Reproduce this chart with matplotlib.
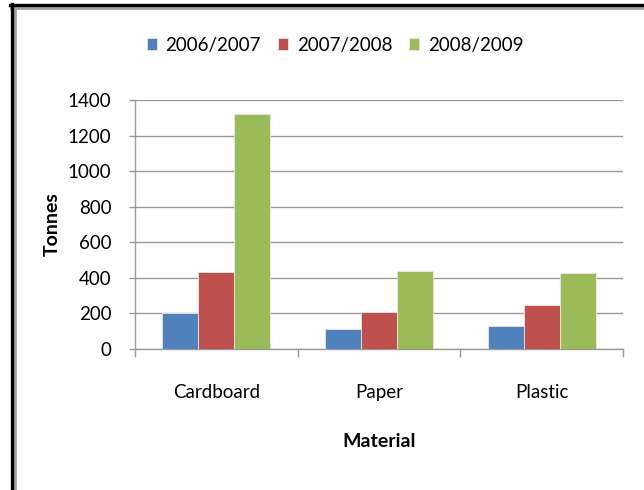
import matplotlib
matplotlib.use("Agg")
import matplotlib.pyplot as plt
from matplotlib.lines import Line2D
import numpy as np

plt.rcParams['font.family'] = ['Lato', 'DejaVu Sans']

materials = ["Cardboard", "Paper", "Plastic"]
seasons = ["2006/2007", "2007/2008", "2008/2009"]
tonnes_2006_2007 = [200, 115, 130]
tonnes_2007_2008 = [435, 210, 245]
tonnes_2008_2009 = [1320, 440, 430]
series = [tonnes_2006_2007, tonnes_2007_2008, tonnes_2008_2009]
colors = ["#4F81BD", "#C0504D", "#9BBB59"]
y_ticks = [0, 200, 400, 600, 800, 1000, 1200, 1400]

fig = plt.figure(figsize=(6.44, 4.90), dpi=100)
ax = fig.add_axes([135 / 644, 1 - 349 / 490, (623 - 135) / 644, (349 - 100) / 490])

x = np.arange(len(materials))
width = 0.221
handles = []
for i, (vals, col, lab) in enumerate(zip(series, colors, seasons)):
    b = ax.bar(x + (i - 1) * width, vals, width, color=col, label=lab,
               edgecolor="#e8e8e8", linewidth=0.6, zorder=3)
    handles.append(b)

ax.set_xlim(-0.5, len(materials) - 0.5)
ax.set_ylim(0, 1400)
ax.set_yticks(y_ticks)
ax.set_yticklabels([str(v) for v in y_ticks], fontsize=13.5)

grid_col = "#9a9a9a"
ax.yaxis.grid(True, color=grid_col, linewidth=1.0, zorder=0)
ax.set_axisbelow(True)
for s in ["top", "right"]:
    ax.spines[s].set_visible(False)
for s in ["left", "bottom"]:
    ax.spines[s].set_color(grid_col)
    ax.spines[s].set_linewidth(1.0)

# category labels sit between the boundary ticks
ax.set_xticks(np.arange(-0.5, len(materials)), minor=False)
ax.set_xticklabels([])
ax.set_xticks(x, minor=True)
ax.set_xticklabels(materials, minor=True, fontsize=13.5)
ax.tick_params(axis="x", which="major", length=6, color=grid_col, width=1.0)
ax.tick_params(axis="x", which="minor", length=0, pad=25)
ax.tick_params(axis="y", length=4, color=grid_col, width=1.0, pad=13)

ax.set_xlabel("Material", fontsize=14, fontweight="bold", va="center")
ax.xaxis.set_label_coords(0.5, (349 - 441) / 249)
ax.set_ylabel("Tonnes", fontsize=14, fontweight="bold", va="center")
ax.yaxis.set_label_coords((52 - 135) / 488, 0.5)

fig.legend(handles=handles, labels=seasons, loc="center",
           bbox_to_anchor=(335 / 644, 1 - 45 / 490), ncol=3, frameon=False,
           fontsize=13.5, handlelength=0.55, handleheight=0.55,
           handletextpad=0.45, columnspacing=0.9)

# outer frame with shadow along the top and left edges
fig.add_artist(Line2D([11 / 644, 1], [1 - 8.5 / 490] * 2, transform=fig.transFigure,
                      color="#a0a0a0", linewidth=2))
fig.add_artist(Line2D([15 / 644] * 2, [0, 1 - 6 / 490], transform=fig.transFigure,
                      color="#a0a0a0", linewidth=2))
fig.add_artist(Line2D([10 / 644, 1], [1 - 5.5 / 490] * 2, transform=fig.transFigure,
                      color="black", linewidth=2.4))
fig.add_artist(Line2D([12 / 644] * 2, [0, 1 - 4.5 / 490], transform=fig.transFigure,
                      color="black", linewidth=2.4))

fig.savefig("out.png", dpi=100, facecolor="white")
